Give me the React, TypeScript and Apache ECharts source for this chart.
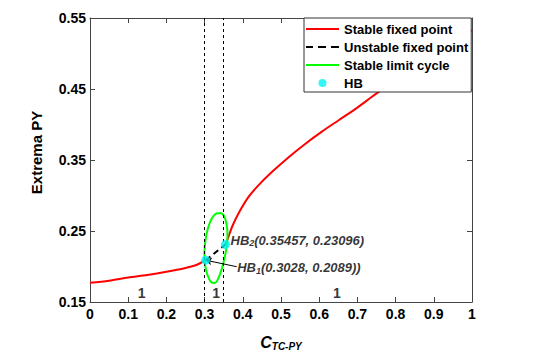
import React, { useEffect, useRef } from 'react';
import * as echarts from 'echarts';

const FONT = '"Liberation Sans", Arial, Helvetica, sans-serif';

// Stable fixed point (lower branch, before HB1)
const stableLower: number[][] = [
  [0, 0.177], [0.05, 0.18], [0.1, 0.1845], [0.15, 0.188], [0.2, 0.1925],
  [0.25, 0.198], [0.28, 0.2025], [0.3028, 0.2089],
];
// Stable fixed point (upper branch, after HB2)
const stableUpper: number[][] = [
  [0.35457, 0.23096], [0.36, 0.238], [0.372, 0.256], [0.389, 0.275], [0.415, 0.298],
  [0.442, 0.315], [0.476, 0.333], [0.52, 0.354], [0.564, 0.373], [0.607, 0.39],
  [0.651, 0.406], [0.695, 0.422], [0.738, 0.439], [0.756, 0.446], [0.8, 0.462],
  [0.85, 0.48], [0.9, 0.498], [0.95, 0.516], [1.0, 0.533],
];
// Unstable fixed point
const unstable: number[][] = [[0.3028, 0.2089], [0.35457, 0.23096]];
// Stable limit cycle (extrema loop)
const limitCycle: number[][] = [
  [0.3298, 0.2746], [0.3416, 0.2754], [0.3508, 0.2711], [0.3573, 0.2599],
  [0.3599, 0.2458], [0.3586, 0.2317], [0.3534, 0.2148], [0.3455, 0.1979],
  [0.3364, 0.1838], [0.3272, 0.1768], [0.3168, 0.1782], [0.3076, 0.188],
  [0.301, 0.2035], [0.2997, 0.2204], [0.3024, 0.2373], [0.3089, 0.2542],
  [0.3194, 0.2683], [0.3298, 0.2746],
];
// Hopf bifurcation points
const hbPoints: number[][] = [[0.3028, 0.2089], [0.35457, 0.23096]];
const hbNames = ['1', '2'];
const hbTexts = ['(0.3028, 0.2089))', '(0.35457, 0.23096)'];
const hbLabelPos: number[][] = [[0.384, 0.1975], [0.3665, 0.236]];
const hbArrowTail: number[] = [0.384, 0.1997];
// Region labels (number of attractors)
const regionLabelPos: number[][] = [[0.135, 0.1627], [0.33, 0.1627], [0.646, 0.1627]];
const regionLabelText = ['1', '1', '1'];
const xTicks = { min: 0, max: 1, interval: 0.1 };
const yTicks = { min: 0.15, max: 0.55, interval: 0.1 };

const legendNames = ['Stable fixed point', 'Unstable fixed point', 'Stable limit cycle', 'HB'];

const BOX = 'M0,0h0.01v0.01h-0.01z M33,14h0.01v0.01h-0.01z ';
const iconSolid = 'path://' + BOX + 'M0,6h33v2h-33z';
const iconDashed = 'path://' + BOX + 'M0,6h7v2h-7z M12,6h8v2h-8z M25,6h8v2h-8z';
const iconDot = 'path://' + BOX + 'M12.5,7a4,4 0 1,0 8,0a4,4 0 1,0 -8,0z';

export default function App() {
  const ref = useRef<HTMLDivElement>(null);
  useEffect(() => {
    if (!ref.current) return;
    const chart = echarts.init(ref.current, null, { renderer: 'svg' });
    const axisColor = '#444';
    const boldLabel = { color: '#000', fontWeight: 'bold' as const, fontSize: 13, fontFamily: FONT };
    const tickLabel = { ...boldLabel, fontSize: 14 };
    const richHB = {
      i: { fontSize: 13, fontWeight: 'bold', fontStyle: 'italic', fontFamily: FONT, color: '#000', lineHeight: 14, verticalAlign: 'top' },
      s: { fontSize: 9, fontWeight: 'bold', fontStyle: 'italic', fontFamily: FONT, color: '#000', lineHeight: 10, padding: [6, 0, 0, 0], verticalAlign: 'bottom' },
    };
    const option: any = {
      animation: false,
      grid: { left: 90, right: 69, top: 18, bottom: 60 },
      legend: {
        data: [
          { name: legendNames[0], icon: iconSolid },
          { name: legendNames[1], icon: iconDashed },
          { name: legendNames[2], icon: iconSolid },
          { name: legendNames[3], icon: iconDot },
        ],
        orient: 'vertical',
        left: 304,
        top: 18,
        itemWidth: 33,
        itemHeight: 14,
        itemGap: 4,
        padding: [4, 3, 2, 2],
        backgroundColor: '#fff',
        borderColor: '#333',
        borderWidth: 1,
        borderRadius: 0,
        textStyle: { ...boldLabel },
      },
      xAxis: [
        {
          type: 'value', ...xTicks, position: 'bottom',
          axisLine: { onZero: false, lineStyle: { color: axisColor } },
          axisTick: { inside: true, length: 5, lineStyle: { color: axisColor } },
          axisLabel: { ...tickLabel, margin: 5, formatter: (v: number) => (v === 0 ? '0' : v === 1 ? '1' : v.toFixed(1)) },
          splitLine: { show: false },
          name: '{c|C}{s|TC-PY}',
          nameLocation: 'middle',
          nameGap: 32,
          nameTextStyle: {
            rich: {
              c: { fontSize: 16, fontWeight: 'bold', fontStyle: 'italic', fontFamily: FONT, color: '#000', lineHeight: 17, verticalAlign: 'top' },
              s: { fontSize: 10, fontWeight: 'bold', fontStyle: 'italic', fontFamily: FONT, color: '#000', lineHeight: 11, padding: [8, 0, 0, 0], verticalAlign: 'bottom' },
            },
          },
        },
        {
          type: 'value', ...xTicks, position: 'top',
          axisLine: { onZero: false, lineStyle: { color: axisColor } },
          axisTick: { inside: true, length: 5, lineStyle: { color: axisColor } },
          axisLabel: { show: false },
          splitLine: { show: false },
        },
      ],
      yAxis: [
        {
          type: 'value', ...yTicks, position: 'left',
          axisLine: { onZero: false, lineStyle: { color: axisColor } },
          axisTick: { inside: true, length: 5, lineStyle: { color: axisColor } },
          axisLabel: { ...tickLabel, margin: 4, formatter: (v: number) => v.toFixed(2) },
          splitLine: { show: false },
          name: 'Extrema PY',
          nameLocation: 'middle',
          nameGap: 46,
          nameTextStyle: { color: '#000', fontWeight: 'bold', fontSize: 15, fontFamily: FONT, padding: [0, 0, 0, 15] },
        },
        {
          type: 'value', ...yTicks, position: 'right',
          axisLine: { onZero: false, lineStyle: { color: axisColor } },
          axisTick: { inside: true, length: 5, lineStyle: { color: axisColor } },
          axisLabel: { show: false },
          splitLine: { show: false },
        },
      ],
      series: [
        {
          name: 'guides', type: 'line', data: [], silent: true,
          markLine: {
            silent: true, symbol: ['none', 'none'], label: { show: false },
            lineStyle: { color: '#000', width: 1, type: [3, 3] },
            data: [{ xAxis: hbPoints[0][0] }, { xAxis: hbPoints[1][0] }],
          },
        },
        {
          name: legendNames[0], type: 'line', data: stableLower, symbol: 'none', smooth: 0.3,
          lineStyle: { color: '#ff0000', width: 2 }, itemStyle: { color: '#ff0000', borderWidth: 0 }, z: 3,
        },
        {
          name: legendNames[0], type: 'line', data: stableUpper, symbol: 'none', smooth: 0.3,
          lineStyle: { color: '#ff0000', width: 2 }, itemStyle: { color: '#ff0000', borderWidth: 0 }, z: 3,
        },
        {
          name: legendNames[1], type: 'line', data: unstable, symbol: 'none',
          lineStyle: { color: '#000', width: 2, type: [6, 4] }, itemStyle: { color: '#000', borderWidth: 0 }, z: 3,
        },
        {
          name: legendNames[2], type: 'line', data: limitCycle, symbol: 'none', smooth: 0.3,
          lineStyle: { color: '#00ff00', width: 2 }, itemStyle: { color: '#00ff00', borderWidth: 0 }, z: 4,
        },
        {
          name: 'annotations', type: 'scatter', symbolSize: 1, silent: true, z: 5,
          itemStyle: { color: 'rgba(0,0,0,0)' },
          data: [
            ...regionLabelPos.map((p, k) => ({
              value: p,
              label: { show: true, position: 'inside', formatter: regionLabelText[k], ...boldLabel, fontSize: 14 },
            })),
            ...hbLabelPos.map((p, k) => ({
              value: p,
              label: {
                show: true, position: 'right', distance: 0,
                formatter: `{i|HB}{s|${hbNames[k]}}{i|${hbTexts[k]}}`,
                rich: richHB,
              },
            })),
          ],
          markLine: {
            silent: true, symbol: ['arrow', 'none'], symbolSize: 6, label: { show: false },
            lineStyle: { color: '#000', width: 1, type: 'solid' },
            data: [[{ coord: hbPoints[0] }, { coord: hbArrowTail }]],
          },
        },
        {
          name: legendNames[3], type: 'scatter', data: hbPoints, symbol: 'circle', symbolSize: 9,
          itemStyle: { color: '#00f5f5' }, z: 6,
        },
      ],
    };
    chart.setOption(option);
    return () => chart.dispose();
  }, []);
  return <div ref={ref} style={{ position: 'absolute', left: 0, top: 0, width: 541, height: 362 }} />;
}
